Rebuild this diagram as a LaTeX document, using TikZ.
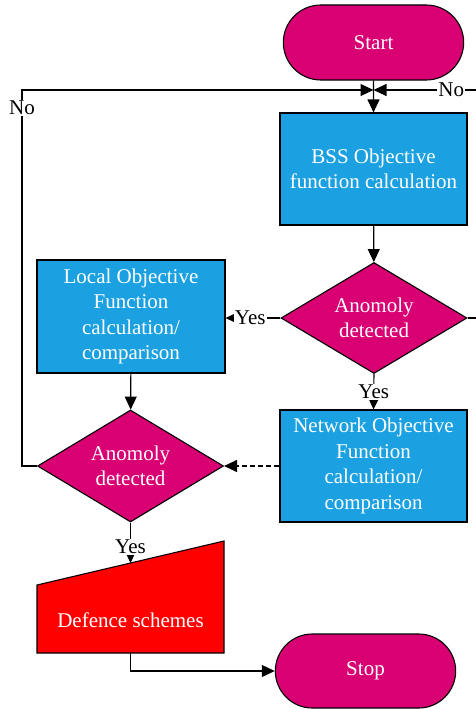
\documentclass[tikz,border=0pt]{standalone}
\usepackage{fontspec}
\setmainfont{Liberation Serif}
\usetikzlibrary{shapes, calc, arrows.meta, math}

\definecolor{magentafill}{HTML}{D80073}
\definecolor{cyanfill}{HTML}{1BA1E2}

\begin{document}
\begin{tikzpicture}[x=1pt, y=-1pt, >={Triangle[length=13pt,width=12pt]}, line width=1.1pt,
  txt/.style={text=white, align=center, font=\fontsize{21}{25.5}\selectfont},
  terminal/.style={txt, draw, fill=magentafill, rounded rectangle, minimum width=187, minimum height=75},
  process/.style={txt, draw, fill=cyanfill, rectangle, minimum width=187, minimum height=112},
  decision/.style={txt, draw, fill=magentafill, diamond, aspect=1.68, inner sep=0pt, minimum width=186, minimum height=111},
  lbl/.style={fill=white, inner sep=1pt, font=\fontsize{21}{24}\selectfont}]

\tikzmath{
      \xl = 130.5; \xr = 373.5;
      \xloop = 22; \xrloop = 490; \ymerge = 90;
          }

\useasboundingbox (0,0) rectangle (475,709);

\node[terminal] (start) at (\xr,42.5) {Start};
\node[process] (bss) at (\xr,169) {BSS Objective\\function calculation};
\node[decision] (anom1) at (374,318) {Anomoly\\detected};
\node[process, minimum width=188, minimum height=113] (local) at (131,316.5) {Local Objective\\Function\\calculation/\\comparison};
\node[process] (network) at (\xr,466) {Network Objective\\Function\\calculation/\\comparison};
\node[decision, minimum height=112] (anom2) at (\xl,466) {Anomoly\\detected};

\draw[fill=red] (37,653) -- (37,585) -- (224,541) -- (224,653) -- cycle;
\node[txt] (defence) at (\xl,620) {Defence schemes};
\coordinate (deftop) at (\xl,563);
\coordinate (defbot) at (\xl,653);

\node[terminal, minimum height=74] (stop) at (365.5,671) {Stop};

\coordinate (merge) at (\xr,\ymerge);
\coordinate (lcorner) at (\xloop,\ymerge);
\coordinate (rcorner) at (\xrloop,\ymerge);

\draw[->] (start) -- (bss);
\draw[->] (bss) -- (anom1);
\draw[->] (anom1.west) -- node[lbl, pos=0.55] {Yes} (local.east |- anom1.west);
\draw[->] (anom1.south) -- node[lbl, pos=0.5] {Yes} (network.north);
\draw[->] (local) -- (anom2);
\draw[->, dash pattern=on 5pt off 3pt] (network.west) -- (anom2.east);
\draw[->] (anom2.south) -- node[lbl, pos=0.6] {Yes} (deftop);
\draw[->] (defbot) |- (stop.west);

\draw[->] (anom2.west) -| node[lbl, pos=0.976] {No} (lcorner) -- (merge);
\draw[->] (anom1.east) -| (rcorner) -- node[lbl, pos=0.333] {No} (merge);

\end{tikzpicture}
\end{document}
